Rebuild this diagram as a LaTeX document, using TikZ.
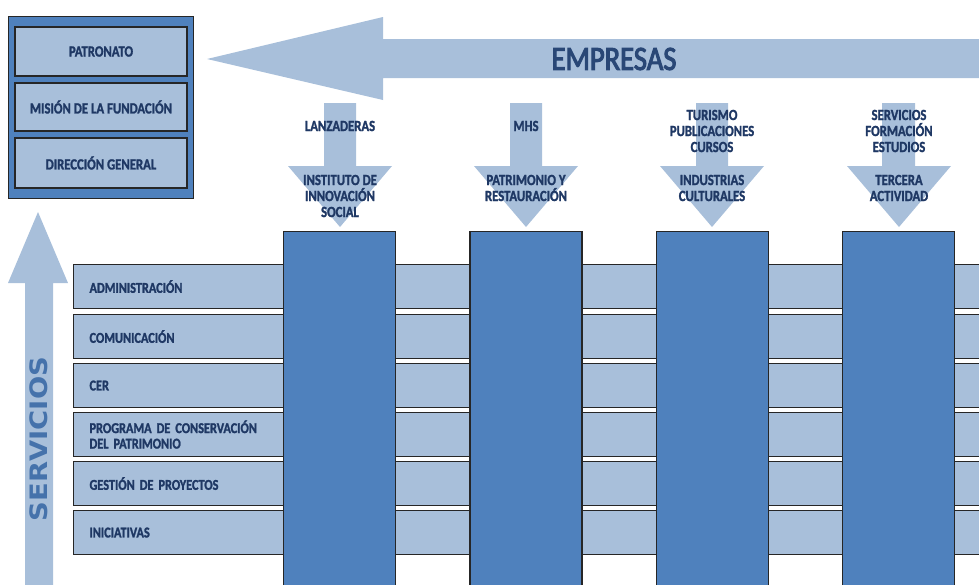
\documentclass[tikz,border=0pt]{standalone}
\usepackage{fontspec}
\newfontfamily\labfont[FakeStretch=0.82,FakeBold=1.5]{Carlito}
\newfontfamily\bigfont[FakeStretch=0.84,FakeBold=3]{Carlito}
\newfontfamily\sidefont[FakeStretch=1.14]{DejaVu Sans}
\newcommand\tightsp{\spaceskip=3pt\relax}
\definecolor{lightblue}{HTML}{A8BFDA}
\definecolor{midblue}{HTML}{4F81BD}
\definecolor{navy}{HTML}{1F3864}
\definecolor{edge}{HTML}{262626}
\begin{document}
\begin{tikzpicture}[x=1pt,y=-1pt,
	arr/.style={fill=lightblue},
	lab/.style={font=\labfont\bfseries\fontsize{15.5}{16}\selectfont\tightsp,text=navy,align=center,inner sep=0},
	row/.style={draw=edge,line width=1.1pt,fill=lightblue,anchor=north west,minimum height=44pt,
		text width=898pt,inner xsep=16pt,align=left,font=\labfont\bfseries\fontsize{15}{15.5}\selectfont\tightsp,text=navy},
	col/.style={draw=edge,line width=1.1pt,fill=midblue,anchor=north,minimum width=112pt,minimum height=380pt},
	unit/.style={draw=edge,line width=1.1pt,fill=lightblue,minimum width=172pt,
		font=\labfont\bfseries\fontsize{15.5}{16}\selectfont\tightsp,text=navy}]
\useasboundingbox (0,0) rectangle (979,584);
% big arrows
\fill[arr] (207,59) -- (383,17) -- (383,39) -- (990,39) -- (990,78) -- (383,78) -- (383,100) -- cycle;
\fill[arr] (38,212) -- (68,283) -- (53,283) -- (53,600) -- (25,600) -- (25,283) -- (8,283) -- cycle;
\node[font=\bigfont\fontsize{34}{34}\selectfont,text=navy!80!midblue] (emp) at (614,59) {EMPRESAS};
\node[rotate=90,font=\sidefont\bfseries\fontsize{24}{25}\selectfont,text=midblue!80!navy] (serv) at (39,439) {SERVICIOS};
% down arrows
\fill[arr] (324,103) -- (356,103) -- (356,166) -- (392,166) -- (340,227) -- (288,166) -- (324,166) -- cycle;
\fill[arr] (510,103) -- (542,103) -- (542,166) -- (578,166) -- (526,227) -- (474,166) -- (510,166) -- cycle;
\fill[arr] (696,103) -- (728,103) -- (728,166) -- (764,166) -- (712,227) -- (660,166) -- (696,166) -- cycle;
\fill[arr] (882,103) -- (915,103) -- (915,166) -- (951,166) -- (899,227) -- (847,166) -- (882,166) -- cycle;
% services rows
\node[row] (adm) at (73,264) {ADMINISTRACIÓN};
\node[row] (com) at (73,314) {COMUNICACIÓN};
\node[row] (cer) at (73,363) {CER};
\node[row] (prog) at (73,412) {PROGRAMA DE CONSERVACIÓN\\DEL PATRIMONIO};
\node[row] (gest) at (73,461) {GESTIÓN DE PROYECTOS};
\node[row] (ini) at (73,510) {INICIATIVAS};
% company columns
\node[col] (inst) at (339.5,231) {};
\node[col] (pat) at (526,231) {};
\node[col] (ind) at (712.5,231) {};
\node[col] (ter) at (898.5,231) {};
% governance box
\node[draw=edge,line width=1.3pt,fill=midblue,anchor=north west,minimum width=185pt,minimum height=182pt] (gob) at (8,16) {};
\node[unit,minimum height=49pt] (patr) at (101,51.5) {PATRONATO};
\node[unit,minimum height=48pt] (mis) at (101,107) {MISIÓN DE LA FUNDACIÓN};
\node[unit,minimum height=50pt] (dir) at (101,163) {DIRECCIÓN GENERAL};
% arrow labels
\node[lab] (lanz) at (340,126) {LANZADERAS};
\node[lab] (instl) at (340,196) {INSTITUTO DE\\INNOVACIÓN\\SOCIAL};
\node[lab] (mhs) at (526,126) {MHS};
\node[lab] (patl) at (526,188) {PATRIMONIO Y\\RESTAURACIÓN};
\node[lab] (tur) at (712,131) {TURISMO\\PUBLICACIONES\\CURSOS};
\node[lab] (indl) at (712,188) {INDUSTRIAS\\CULTURALES};
\node[lab] (srv) at (899,131) {SERVICIOS\\FORMACIÓN\\ESTUDIOS};
\node[lab] (terl) at (899,188) {TERCERA\\ACTIVIDAD};
\end{tikzpicture}
\end{document}
